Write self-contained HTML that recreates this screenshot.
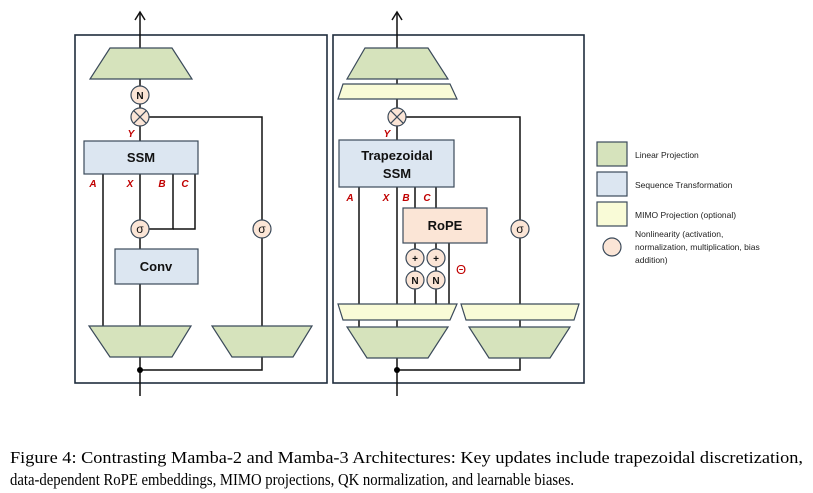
<!DOCTYPE html>
<html><head><meta charset="utf-8"><style>body{margin:0;background:#fff}svg{display:block}</style></head>
<body>
<svg width="813" height="493" viewBox="0 0 813 493" xmlns="http://www.w3.org/2000/svg" font-family="Liberation Sans, sans-serif">
<g stroke="#1f2d3d" stroke-width="1.6" fill="none">
<rect x="75" y="35" width="252" height="348"/>
<rect x="333" y="35" width="251" height="348"/>
</g>
<g stroke="#111" stroke-width="1.5" fill="none">
<line x1="140" y1="48" x2="140" y2="12"/>
<path d="M135,20 L140,12 L145,20"/>
<line x1="140" y1="79" x2="140" y2="141"/>
<polyline points="149,117 262,117 262,326"/>
<line x1="103" y1="174" x2="103" y2="326"/>
<line x1="140" y1="174" x2="140" y2="249"/>
<polyline points="173,174 173,229 140,229"/>
<polyline points="195,174 195,229 173,229"/>
<line x1="140" y1="284" x2="140" y2="326"/>
<line x1="140" y1="357" x2="140" y2="396"/>
<polyline points="140,370 262,370 262,357"/>
<line x1="397" y1="48" x2="397" y2="12"/>
<path d="M392,20 L397,12 L402,20"/>
<line x1="397" y1="79" x2="397" y2="140"/>
<polyline points="406,117 520,117 520,304"/>
<line x1="359" y1="187" x2="359" y2="327"/>
<line x1="397" y1="187" x2="397" y2="327"/>
<line x1="415" y1="187" x2="415" y2="208"/>
<line x1="436" y1="187" x2="436" y2="208"/>
<line x1="415" y1="243" x2="415" y2="304"/>
<line x1="436" y1="243" x2="436" y2="304"/>
<line x1="449" y1="243" x2="449" y2="304"/>
<line x1="520" y1="320" x2="520" y2="327"/>
<line x1="397" y1="358" x2="397" y2="396"/>
<polyline points="397,370 520,370 520,358"/>
</g>
<circle cx="140" cy="370" r="3" fill="#000"/>
<circle cx="397" cy="370" r="3" fill="#000"/>
<g stroke="#3b4a5a" stroke-width="1.2">
<polygon points="110,48 172,48 192,79 90,79" fill="#d6e3bc"/>
<polygon points="89,326 191,326 172,357 110,357" fill="#d6e3bc"/>
<polygon points="212,326 312,326 293,357 232,357" fill="#d6e3bc"/>
<rect x="84" y="141" width="114" height="33" fill="#dce6f1"/>
<rect x="115" y="249" width="83" height="35" fill="#dce6f1"/>
<polygon points="365,48 428,48 448,79 347,79" fill="#d6e3bc"/>
<polygon points="343,84 450,84 457,99 338,99" fill="#f9fbd7"/>
<rect x="339" y="140" width="115" height="47" fill="#dce6f1"/>
<rect x="403" y="208" width="84" height="35" fill="#fbe5d6"/>
<polygon points="338,304 457,304 450,320 343,320" fill="#f9fbd7"/>
<polygon points="461,304 579,304 574,320 466,320" fill="#f9fbd7"/>
<polygon points="347,327 448,327 428,358 367,358" fill="#d6e3bc"/>
<polygon points="469,327 570,327 550,358 489,358" fill="#d6e3bc"/>
<rect x="597" y="142" width="30" height="24" fill="#d6e3bc"/>
<rect x="597" y="172" width="30" height="24" fill="#dce6f1"/>
<rect x="597" y="202" width="30" height="24" fill="#f9fbd7"/>
</g>
<g stroke="#3b4a5a" stroke-width="1.2" fill="#fbe5d6">
<circle cx="140" cy="95" r="9"/><circle cx="140" cy="117" r="9"/>
<circle cx="140" cy="229" r="9"/><circle cx="262" cy="229" r="9"/>
<circle cx="397" cy="117" r="9"/><circle cx="520" cy="229" r="9"/>
<circle cx="415" cy="258" r="9"/><circle cx="436" cy="258" r="9"/>
<circle cx="415" cy="280" r="9"/><circle cx="436" cy="280" r="9"/>
<circle cx="612" cy="247" r="9"/>
</g>
<g stroke="#3b4a5a" stroke-width="1.2">
<path d="M133.6,110.6 L146.4,123.4 M146.4,110.6 L133.6,123.4"/>
<path d="M390.6,110.6 L403.4,123.4 M403.4,110.6 L390.6,123.4"/>
</g>
<g font-size="10" font-weight="bold" text-anchor="middle" fill="#111">
<text x="140" y="99">N</text><text x="415" y="284">N</text><text x="436" y="284">N</text>
<text x="415" y="262">+</text><text x="436" y="262">+</text>
</g>
<g font-size="12" text-anchor="middle" fill="#111">
<text x="140" y="233">σ</text><text x="262" y="233">σ</text><text x="520" y="233">σ</text>
</g>
<g font-size="13" font-weight="bold" text-anchor="middle" fill="#111">
<text x="141" y="162">SSM</text><text x="156" y="271">Conv</text>
<text x="397" y="160">Trapezoidal</text><text x="397" y="178">SSM</text>
<text x="445" y="230">RoPE</text>
</g>
<g font-size="10" font-weight="bold" font-style="italic" fill="#c00000" text-anchor="middle">
<text x="131" y="137">Y</text><text x="93" y="187">A</text><text x="130" y="187">X</text><text x="162" y="187">B</text><text x="185" y="187">C</text>
<text x="387" y="137">Y</text><text x="350" y="201">A</text><text x="386" y="201">X</text><text x="406" y="201">B</text><text x="427" y="201">C</text>
</g>
<text x="461" y="274" font-size="13" fill="#c00000" text-anchor="middle">Θ</text>
<g font-size="8.5" fill="#222">
<text x="635" y="158">Linear Projection</text>
<text x="635" y="188">Sequence Transformation</text>
<text x="635" y="218">MIMO Projection (optional)</text>
<text x="635" y="237">Nonlinearity (activation,</text>
<text x="635" y="250">normalization, multiplication, bias</text>
<text x="635" y="263">addition)</text>
</g>
<g font-family="Liberation Serif, serif" font-size="17" fill="#000">
<text x="10" y="463" textLength="793" lengthAdjust="spacingAndGlyphs">Figure 4: Contrasting Mamba-2 and Mamba-3 Architectures: Key updates include trapezoidal discretization,</text>
<text x="10" y="485" textLength="564" lengthAdjust="spacingAndGlyphs">data-dependent RoPE embeddings, MIMO projections, QK normalization, and learnable biases.</text>
</g>
</svg>
</body></html>
